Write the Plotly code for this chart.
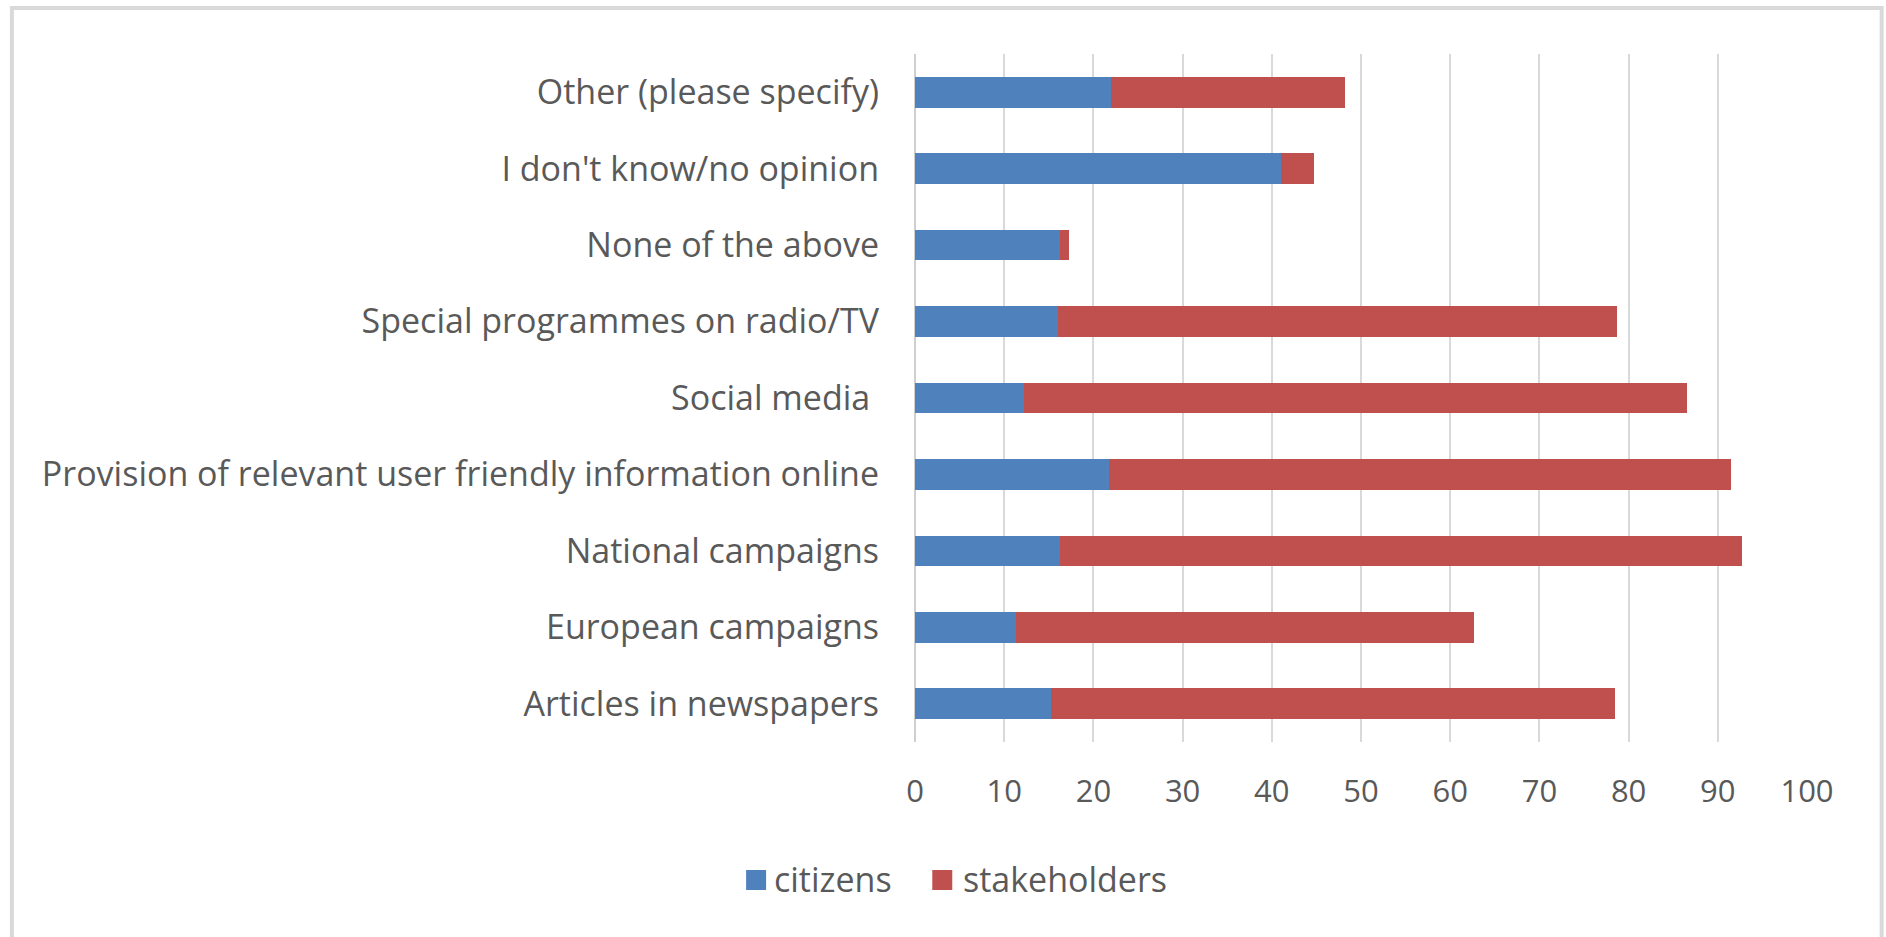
import plotly.graph_objects as go

# Survey categories, bottom to top as drawn on the y axis
categories = [
    "Articles in newspapers",
    "European campaigns",
    "National campaigns",
    "Provision of relevant user friendly information online",
    "Social media\u00a0",
    "Special programmes on radio/TV",
    "None of the above",
    "I don't know/no opinion",
    "Other (please specify)",
]
citizens = [15.3, 11.3, 16.2, 21.7, 12.2, 16.0, 16.2, 41.0, 22.0]
stakeholders = [63.2, 51.4, 76.5, 69.8, 74.4, 62.7, 1.1, 3.7, 26.2]
series_names = ["citizens", "stakeholders"]
x_ticks = [0, 10, 20, 30, 40, 50, 60, 70, 80, 90, 100]

COLORS = ["#4F81BD", "#C0504D"]
TEXT = "#595959"
FONT = "Open Sans"

W, H = 1886, 937
L, R, T, B = 914.7, 78.7, 54, 195


def px_x(p):
    return (p - L) / (W - L - R)


def px_y(p):
    return (H - B - p) / (H - T - B)


fig = go.Figure()
for name, vals, col in zip(series_names, [citizens, stakeholders], COLORS):
    fig.add_trace(go.Bar(
        y=categories, x=vals, name=name, orientation="h",
        marker=dict(color=col, line=dict(width=0)),
        showlegend=False,
    ))

# Outer chart frame
shapes = [dict(type="rect", xref="paper", yref="paper",
               x0=px_x(11), x1=px_x(1882), y0=px_y(960), y1=px_y(8),
               line=dict(color="#d9d9d9", width=4), fillcolor="rgba(0,0,0,0)",
               layer="below")]
annotations = []

# Legend: square swatch followed by series name
legend_items = [(745.7, 772), (932, 961)]
for (sx, tx), name, col in zip(legend_items, series_names, COLORS):
    shapes.append(dict(type="rect", xref="paper", yref="paper",
                       x0=px_x(sx), x1=px_x(sx + 20), y0=px_y(890), y1=px_y(870),
                       line=dict(width=0), fillcolor=col))
    annotations.append(dict(xref="paper", yref="paper", x=px_x(tx), y=px_y(879),
                            xanchor="left", yanchor="middle", showarrow=False,
                            text=name, font=dict(family=FONT, size=34, color=TEXT)))

fig.update_layout(
    width=W, height=H,
    margin=dict(l=L, r=R, t=T, b=B, autoexpand=False),
    paper_bgcolor="white", plot_bgcolor="white",
    barmode="stack", bargap=0.6,
    font=dict(family=FONT, color=TEXT),
    shapes=shapes, annotations=annotations,
    xaxis=dict(range=[0, 100], tickvals=x_ticks, showgrid=True,
               gridcolor="#d9d9d9", gridwidth=1.5, zeroline=True,
               zerolinecolor="#cfcfcf", zerolinewidth=1.5, showline=False,
               ticks="", ticklabelstandoff=28,
               tickfont=dict(family=FONT, size=31, color=TEXT)),
    yaxis=dict(showgrid=False, zeroline=False, showline=False, ticks="",
               ticklabelstandoff=35,
               tickfont=dict(family=FONT, size=34, color=TEXT)),
)

fig.write_html("out.html")
